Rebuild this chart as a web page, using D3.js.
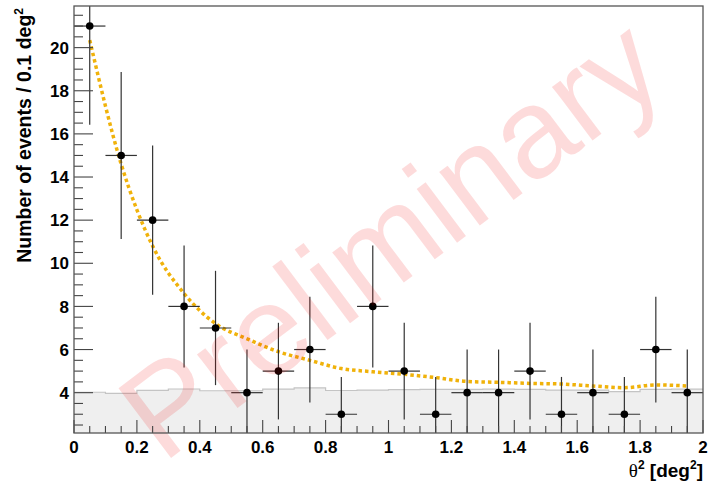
<!DOCTYPE html>
<html><head><meta charset="utf-8">
<script src="https://cdn.jsdelivr.net/npm/d3@7"></script>
<style>
body{margin:0;background:#fff;}
svg{display:block;}
</style></head>
<body>
<svg id="chart" width="723" height="486"></svg>
<script>
// ---- data ----
const binCenters = [0.05,0.15,0.25,0.35,0.45,0.55,0.65,0.75,0.85,0.95,1.05,1.15,1.25,1.35,1.45,1.55,1.65,1.75,1.85,1.95];
const binEdges = [0,0.1,0.2,0.3,0.4,0.5,0.6,0.7,0.8,0.9,1.0,1.1,1.2,1.3,1.4,1.5,1.6,1.7,1.8,1.9,2.0];
const counts = [21,15,12,8,7,4,5,6,3,8,5,3,4,4,5,3,4,3,6,4];
const countErrors = [4.58,3.87,3.46,2.83,2.65,2.0,2.24,2.45,1.73,2.83,2.24,1.73,2.0,2.0,2.24,1.73,2.0,1.73,2.45,2.0];
const background = [4.02,3.97,4.11,4.17,4.09,4.09,4.16,4.22,4.10,4.12,4.14,4.15,4.15,4.16,4.15,4.12,4.12,4.05,4.15,4.16];
const fitCurve = [20.35,14.6,10.8,8.6,7.2,6.5,5.9,5.5,5.12,4.97,4.85,4.7,4.52,4.48,4.43,4.4,4.31,4.23,4.36,4.31];
const xTickLabels = [0,0.2,0.4,0.6,0.8,1,1.2,1.4,1.6,1.8,2];
const yTickLabels = [4,6,8,10,12,14,16,18,20];
const xDomain = [0,2];
const yDomain = [2.13,21.93];

// ---- layout ----
const W = 723, H = 486;
const m = {left:74, top:6, right:20, bottom:53};
const pw = W - m.left - m.right, ph = H - m.top - m.bottom;
const svg = d3.select('#chart');
const x = d3.scaleLinear().domain(xDomain).range([m.left, m.left+pw]);
const y = d3.scaleLinear().domain(yDomain).range([m.top+ph, m.top]);

svg.append('defs').append('clipPath').attr('id','clip')
  .append('rect').attr('x',m.left).attr('y',m.top).attr('width',pw).attr('height',ph);

const plot = svg.append('g').attr('clip-path','url(#clip)');

// background histogram (step fill)
const bgSteps = binEdges.map((e,i)=>({x:e, v: background[Math.min(i, background.length-1)]}));
plot.append('path')
  .datum(bgSteps)
  .attr('d', d3.area().curve(d3.curveStepAfter).x(d=>x(d.x)).y0(y(yDomain[0])).y1(d=>y(d.v)))
  .attr('fill','#efefef');
plot.append('path')
  .datum(bgSteps)
  .attr('d', d3.line().curve(d3.curveStepAfter).x(d=>x(d.x)).y(d=>y(d.v)))
  .attr('fill','none').attr('stroke','#c4c4c4').attr('stroke-width',1.2);

// watermark
svg.append('text')
  .attr('transform', `translate(390,238) rotate(-37)`)
  .attr('text-anchor','middle').attr('dominant-baseline','central')
  .attr('font-family','Liberation Sans, Arial, sans-serif')
  .attr('font-size',127)
  .attr('fill','rgba(240,0,0,0.14)')
  .text('Preliminary');

// fit curve
plot.append('path')
  .datum(binCenters.map((c,i)=>[c, fitCurve[i]]))
  .attr('d', d3.line().curve(d3.curveMonotoneX).x(d=>x(d[0])).y(d=>y(d[1])))
  .attr('fill','none').attr('stroke','#f0b20a').attr('stroke-width',3.5)
  .attr('stroke-dasharray','3.5,3');

// error bars
const eb = plot.append('g').attr('stroke','#333').attr('stroke-width',1.2);
binCenters.forEach((c,i)=>{
  eb.append('line').attr('x1',x(c)).attr('x2',x(c))
    .attr('y1',y(counts[i]-countErrors[i])).attr('y2',y(counts[i]+countErrors[i]));
  eb.append('line').attr('x1',x(binEdges[i])).attr('x2',x(binEdges[i+1]))
    .attr('y1',y(counts[i])).attr('y2',y(counts[i]));
});
plot.append('g').selectAll('circle').data(binCenters).join('circle')
  .attr('cx',d=>x(d)).attr('cy',(d,i)=>y(counts[i])).attr('r',3.8).attr('fill','#000');

// axes ticks
const axG = svg.append('g').attr('stroke','#444').attr('stroke-width',1.1);
d3.range(0, 2.0001, 0.05).forEach(v=>{
  const major = xTickLabels.some(t=>Math.abs(t-v)<1e-6);
  axG.append('line').attr('x1',x(v)).attr('x2',x(v))
    .attr('y1',m.top+ph).attr('y2',m.top+ph-(major?13:7));
});
d3.range(2.5, 21.9, 0.5).forEach(v=>{
  const major = yTickLabels.includes(v);
  axG.append('line').attr('x1',m.left).attr('x2',m.left+(major?19:9))
    .attr('y1',y(v)).attr('y2',y(v));
});
// frame
svg.append('rect').attr('x',m.left).attr('y',m.top).attr('width',pw).attr('height',ph)
  .attr('fill','none').attr('stroke','#555').attr('stroke-width',1.3);

// tick labels
const lblFont = 'Liberation Sans, Arial, Helvetica, sans-serif';
svg.append('g').selectAll('text').data(xTickLabels).join('text')
  .attr('x',d=>x(d)).attr('y',453).attr('text-anchor','middle')
  .attr('font-family',lblFont).attr('font-weight','bold').attr('font-size',17).attr('fill','#000')
  .text(d=>d3.format('~g')(d));
svg.append('g').selectAll('text').data(yTickLabels).join('text')
  .attr('x',69).attr('y',d=>y(d)).attr('dy','0.36em').attr('text-anchor','end')
  .attr('font-family',lblFont).attr('font-weight','bold').attr('font-size',17).attr('fill','#000')
  .text(d=>d);

// axis titles
const yt = svg.append('text')
  .attr('transform','translate(31,8) rotate(-90)')
  .attr('text-anchor','end')
  .attr('font-family',lblFont).attr('font-weight','bold').attr('font-size',19.5).attr('fill','#000');
yt.append('tspan').text('Number of events / 0.1 deg');
yt.append('tspan').attr('font-size',12).attr('dy',-8).text('2');

const xt = svg.append('text')
  .attr('x',703).attr('y',477).attr('text-anchor','end')
  .attr('font-family',lblFont).attr('font-weight','bold').attr('font-size',19).attr('fill','#000');
xt.append('tspan').attr('font-family','Liberation Serif, DejaVu Serif, serif').attr('font-weight','normal').text('θ');
xt.append('tspan').attr('font-size',12).attr('dy',-8).text('2');
xt.append('tspan').attr('dy',8).text(' [deg');
xt.append('tspan').attr('font-size',12).attr('dy',-8).text('2');
xt.append('tspan').attr('dy',8).text(']');
</script>
</body></html>
